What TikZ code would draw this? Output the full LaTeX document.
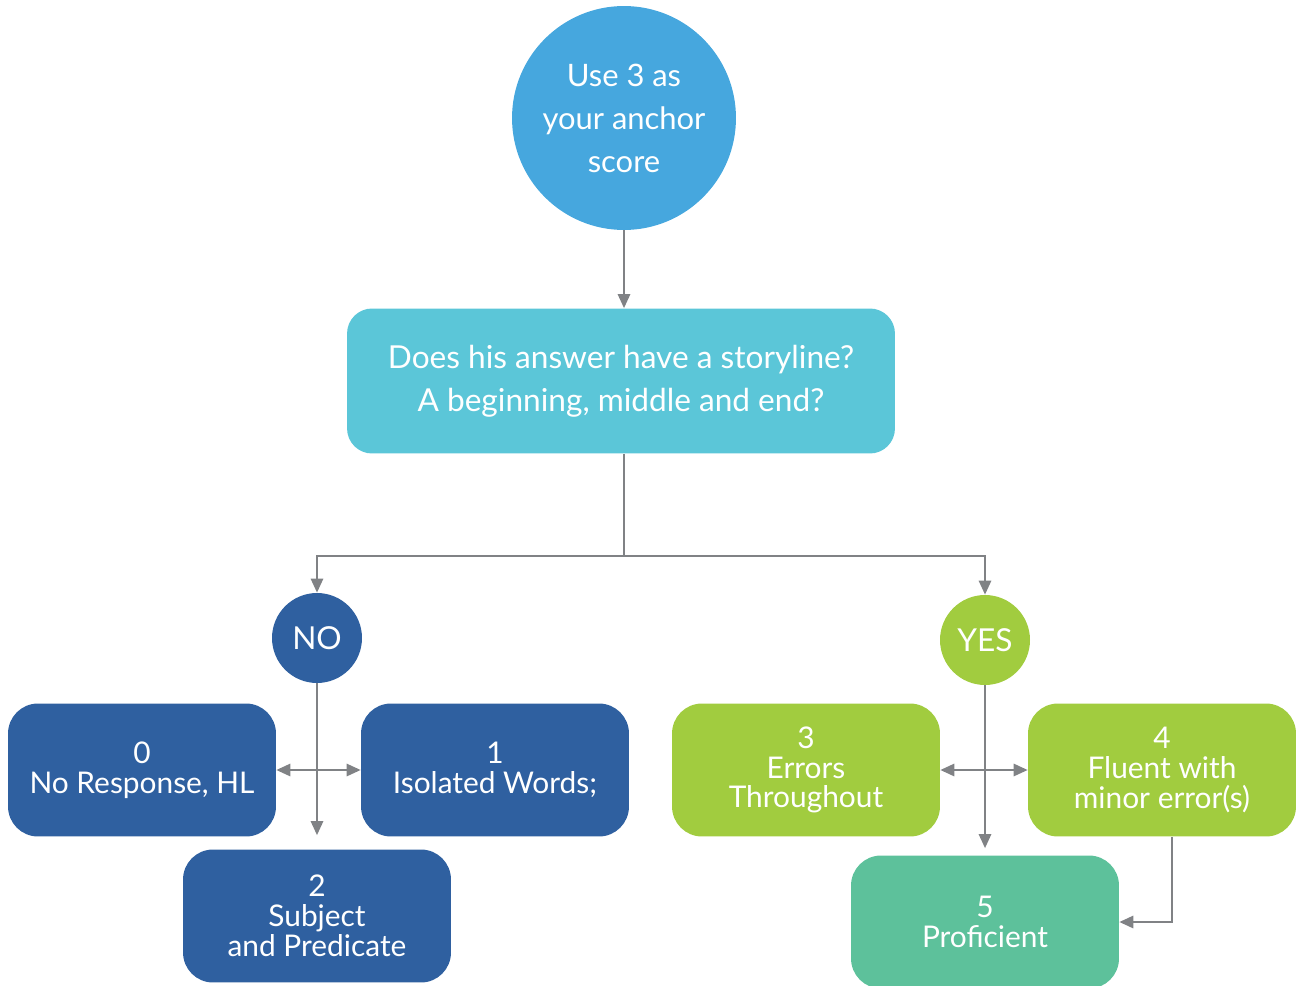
\documentclass[tikz,border=0pt]{standalone}
\usepackage{fontspec}
\setmainfont{Lato}
\usetikzlibrary{arrows.meta}
\definecolor{anchorblue}{RGB}{70,167,222}
\definecolor{askcyan}{RGB}{91,198,216}
\definecolor{noblue}{RGB}{47,96,160}
\definecolor{yesgreen}{RGB}{161,204,63}
\definecolor{proteal}{RGB}{93,193,155}
\definecolor{flowgray}{RGB}{128,130,133}
\begin{document}
\begin{tikzpicture}[x=0.02cm,y=-0.02cm,
  every node/.style={text=white,align=center,inner sep=0pt},
  bigcirc/.style={circle,fill=anchorblue,minimum size=4.48cm,font=\fontsize{17.6}{24.5}\selectfont},
  askbox/.style={rectangle,rounded corners=0.5cm,fill=askcyan,minimum width=10.96cm,minimum height=2.9cm,font=\fontsize{18}{24.5}\selectfont},
  choice/.style={circle,fill=#1,minimum size=1.8cm,font=\fontsize{18}{20}\selectfont},
  scorebox/.style={rectangle,rounded corners=0.6cm,fill=#1,minimum width=5.36cm,minimum height=2.66cm,font=\fontsize{17}{17}\selectfont},
  flow/.style={draw=flowgray,line width=1.2pt,-{Triangle[length=8pt,width=7pt]}},
  both/.style={draw=flowgray,line width=1.2pt,{Triangle[length=8pt,width=7pt]}-{Triangle[length=8pt,width=7pt]}}]
  \useasboundingbox (0,0) rectangle (1301,986);
  \node[bigcirc] (anchor) at (624,118) {Use 3 as\\your anchor\\score};
  \node[askbox] (ask) at (621,381) {Does his answer have a storyline?\\A beginning, middle and end?};
  \node[choice=noblue] (no) at (317,638) {NO};
  \node[choice=yesgreen] (yes) at (985,640) {YES};
  \node[scorebox=noblue] (resp) at (142,770) {0\\No Response, HL};
  \node[scorebox=noblue] (words) at (495,770) {1\\Isolated Words;};
  \node[scorebox=noblue] (subj) at (317,916) {2\\Subject\\and Predicate};
  \node[scorebox=yesgreen] (errs) at (806,770) {3\\Errors\\Throughout};
  \node[scorebox=yesgreen] (fluent) at (1162,770) {4\\Fluent with\\minor error(s)};
  \node[scorebox=proteal] (prof) at (985,922) {5\\Proficient};
  \coordinate (split) at (624,556);
  \draw[flow] (anchor.south) -- (anchor.south |- ask.north);
  \draw[flow] (anchor.south |- ask.south) -- (split) -| (no);
  \draw[flow] (split) -| (yes);
  \draw[flow,shorten >=0.28cm] (no.south) -- (no.south |- subj.north);
  \draw[both] (resp.east) -- (words.west);
  \draw[flow,shorten >=0.14cm] (yes.south) -- (yes.south |- prof.north);
  \draw[both] (errs.east) -- (fluent.west);
  \draw[flow] ([xshift=0.2cm]fluent.south) |- (prof.east);
\end{tikzpicture}
\end{document}
